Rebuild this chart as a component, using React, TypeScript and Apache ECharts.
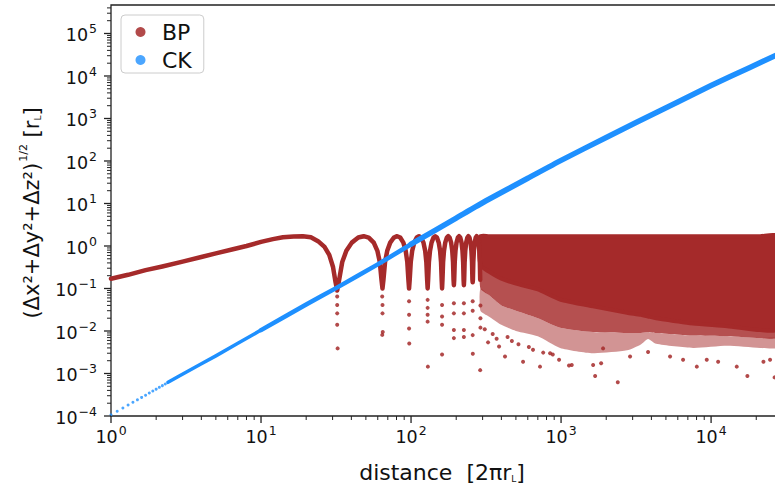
import React, { useEffect, useRef } from 'react';
import * as echarts from 'echarts';

const BROWN = '#a52a2a';
const BLUE = '#1e90ff';
const FONT = 'DejaVu Sans';
const INK = '#111';

// axis limits
const xMin = 1;
const xMax = 27500;
const yMin = 1e-4;
const yMax = 4.68e5;

// tick positions
const xMajorTicks = [1, 10, 100, 1000, 10000];
const yMajorTicks = [1e-4, 1e-3, 1e-2, 1e-1, 1, 10, 100, 1000, 1e4, 1e5];
const minorMultipliers = [2, 3, 4, 5, 6, 7, 8, 9];

// BP: smooth rising part before the first zero
const bpRiseX = [1, 1.3, 1.7, 2.2, 3, 4, 5, 6.5, 8, 10, 12, 14, 16.5, 19, 21.5, 24, 26.5, 28.5, 30.2, 31.4];
const bpRiseY = [0.17, 0.21, 0.27, 0.33, 0.43, 0.55, 0.67, 0.84, 1.0, 1.25, 1.45, 1.6, 1.68, 1.7, 1.6, 1.3, 0.95, 0.62, 0.32, 0.14];
// BP: zeros (dips) of the oscillation and the lowest point of the drawn trace there
const bpDipX = [32.2, 64.5, 97, 129, 161, 193, 225, 257.5, 290];
const bpDipY = [0.09, 0.1, 0.1, 0.1, 0.1, 0.12, 0.12, 0.14, 0.16];
// BP: arch shape between two zeros (fraction of spacing, value)
const lobeFrac = [0.03, 0.08, 0.15, 0.25, 0.38, 0.5, 0.62, 0.75, 0.85, 0.92, 0.97];
const lobeY = [0.16, 0.42, 0.77, 1.2, 1.58, 1.7, 1.58, 1.2, 0.77, 0.42, 0.16];
// BP: dense band beyond ~290
const bpBandTop = 1.7;
const bandX = [290, 330, 400, 500, 700, 985, 1633, 2754, 3400, 3800, 4300, 7590, 12790, 21220, 27500];
const bandSolidLowY = [0.35, 0.25, 0.17, 0.13, 0.095, 0.055, 0.038, 0.027, 0.024, 0.022, 0.02, 0.015, 0.013, 0.0105, 0.011];
const bandFuzzMidY = [0.1, 0.07, 0.04, 0.03, 0.02, 0.012, 0.0095, 0.009, 0.009, 0.0095, 0.009, 0.0078, 0.0075, 0.0068, 0.0068];
const bandFuzzLowY = [0.03, 0.022, 0.014, 0.01, 0.0075, 0.004, 0.003, 0.0035, 0.0048, 0.0065, 0.005, 0.004, 0.0045, 0.004, 0.004];
// BP: isolated sample points below the trace
const bpDotX = [
  32.2, 32.2, 32.2, 32.2, 32.4,
  64.2, 64.5, 64.5, 64.8, 64.3,
  97, 97, 97, 97.3,
  129, 129, 129, 129, 129.5,
  161, 161, 161, 161,
  193, 193, 193, 193,
  225, 225, 225, 225,
  257.5, 257.5, 257.5, 258,
  290, 290, 290, 289,
  326, 386, 423, 558, 724, 845, 970, 1130, 1178, 1635, 1686, 1849, 1905, 2388, 2884,
  3802, 5330, 6506, 8030, 9360, 11140, 14830, 17460, 22330, 24730, 26500,
  310, 350, 372, 440, 470, 520, 610, 650, 760, 880,
];
const bpDotY = [
  0.065, 0.041, 0.026, 0.014, 0.0039,
  0.065, 0.041, 0.026, 0.0095, 0.0081,
  0.05, 0.024, 0.0115, 0.0051,
  0.054, 0.035, 0.024, 0.0166, 0.00145,
  0.041, 0.022, 0.014, 0.0028,
  0.045, 0.026, 0.0105, 0.0068,
  0.045, 0.026, 0.0105, 0.0072,
  0.05, 0.03, 0.008, 0.0029,
  0.04, 0.02, 0.012, 0.0012,
  0.0054, 0.0043, 0.0025, 0.0019, 0.00145, 0.003, 0.0021, 0.00155, 0.00158, 0.00158, 0.00087, 0.00174, 0.0039, 0.00062, 0.0025,
  0.0032, 0.0025, 0.0021, 0.00145, 0.0021, 0.0019, 0.00145, 0.00087, 0.0019, 0.0021, 0.00081,
  0.011, 0.0085, 0.0066, 0.0072, 0.0058, 0.0049, 0.0042, 0.0036, 0.0031, 0.0028,
];

// CK: sparse samples at small distance
const ckDotX = [1.0, 1.1, 1.2, 1.3, 1.4, 1.5, 1.6, 1.7, 1.8, 1.9, 2.0, 2.1, 2.2, 2.3];
const ckDotY = [1.07e-4, 1.29e-4, 1.54e-4, 1.81e-4, 2.1e-4, 2.4e-4, 2.74e-4, 3.09e-4, 3.47e-4, 3.86e-4, 4.28e-4, 4.72e-4, 5.18e-4, 5.66e-4];
// CK: dense trace
const ckX = [2.4, 3.162, 5, 10, 20, 31.62, 60, 100, 200, 316.2, 600, 1000, 2000, 3162, 6000, 10000, 18000, 27500];
const ckY = [6.2e-4, 1.07e-3, 2.6e-3, 1.05e-2, 4.2e-2, 0.102, 0.37, 1.1, 4.54, 11.6, 39.2, 103.5, 356, 804, 2450, 5960, 15700, 31600];
const ckSplitA = 3; // x = 10: trace gets thicker
const ckSplitB = 7; // x = 100

function buildBpTrace(): number[][] {
  const pts: number[][] = bpRiseX.map((x, i) => [x, bpRiseY[i]]);
  for (let d = 0; d < bpDipX.length; d++) {
    pts.push([bpDipX[d], bpDipY[d]]);
    if (d < bpDipX.length - 1) {
      const a = bpDipX[d];
      const b = bpDipX[d + 1];
      lobeFrac.forEach((f, k) => pts.push([a + f * (b - a), lobeY[k]]));
    }
  }
  return pts;
}

function polygonSeries(name: string, xs: number[], upper: number[], lower: number[], style: any, z: number) {
  return {
    type: 'custom',
    name,
    silent: true,
    clip: true,
    z,
    data: [[xs[0], upper[0]]],
    renderItem: (_p: any, api: any) => {
      const pts: number[][] = [];
      for (let i = 0; i < xs.length; i++) pts.push(api.coord([xs[i], upper[i]]));
      for (let i = xs.length - 1; i >= 0; i--) pts.push(api.coord([xs[i], lower[i]]));
      return { type: 'polygon', shape: { points: pts, smooth: 0.2 }, style };
    },
  };
}

function buildTicks(): number[][] {
  const t: number[][] = [];
  xMajorTicks.forEach((v) => {
    t.push([v, yMin, 0]);
    minorMultipliers.forEach((m) => {
      const mv = v * m;
      if (mv <= xMax) t.push([mv, yMin, 1]);
    });
  });
  yMajorTicks.forEach((v) => {
    t.push([xMin, v, 2]);
    minorMultipliers.forEach((m) => {
      const mv = v * m;
      if (mv <= yMax) t.push([xMin, mv, 3]);
    });
  });
  return t;
}

const powLabel = (v: number) => {
  const e = Math.log10(v);
  const r = Math.round(e);
  if (Math.abs(e - r) > 1e-6) return '';
  return `{b|10}{s|${r < 0 ? '\u2212' + -r : r}}`;
};

const tickRich = {
  b: { fontSize: 17.5, fontFamily: FONT, color: INK, verticalAlign: 'bottom' },
  s: { fontSize: 12.5, fontFamily: FONT, color: INK, verticalAlign: 'top', padding: [0, 0, 9, 1] },
};

export default function App() {
  const ref = useRef<HTMLDivElement>(null);
  useEffect(() => {
    document.body.style.margin = '0';
    const chart = echarts.init(ref.current!, undefined, { renderer: 'svg' });
    const ckAll = ckX.map((x, i) => [x, ckY[i]]);
    const ckLine = (name: string, from: number, to: number, width: number) => ({
      type: 'line',
      name,
      data: ckAll.slice(from, to + 1),
      showSymbol: false,
      silent: true,
      smooth: 0.2,
      z: 3,
      lineStyle: { color: BLUE, width, cap: 'round', join: 'round' },
    });
    const option: any = {
      animation: false,
      backgroundColor: '#fff',
      grid: {
        left: 111,
        top: 5,
        right: -2,
        bottom: 67,
        show: true,
        borderColor: '#222',
        borderWidth: 1.3,
        outerBoundsMode: 'none',
      },
      xAxis: {
        type: 'log',
        logBase: 10,
        min: xMin,
        max: xMax,
        axisLine: { show: false },
        axisTick: { show: false },
        splitLine: { show: false },
        axisLabel: { formatter: powLabel, rich: tickRich, margin: 8, hideOverlap: false },
      },
      yAxis: {
        type: 'log',
        logBase: 10,
        min: yMin,
        max: yMax,
        axisLine: { show: false },
        axisTick: { show: false },
        splitLine: { show: false },
        axisLabel: { formatter: powLabel, rich: tickRich, margin: 14, hideOverlap: false },
      },
      legend: {
        left: 121,
        top: 15,
        orient: 'vertical',
        data: [
          { name: 'BP', icon: 'circle' },
          { name: 'CK', icon: 'circle' },
        ],
        itemWidth: 25,
        itemHeight: 10,
        itemGap: 6,
        padding: [6, 12, 2, 14.5],
        backgroundColor: 'rgba(255,255,255,0.85)',
        borderColor: '#cccccc',
        borderWidth: 1,
        borderRadius: 4,
        selectedMode: false,
        textStyle: { fontSize: 22, lineHeight: 22, fontFamily: FONT, color: INK, padding: [0, 0, 0, 4] },
      },
      graphic: [
        {
          type: 'text',
          x: 30,
          y: 213,
          rotation: Math.PI / 2,
          style: {
            text: '{a|(Δx²+Δy²+Δz²)}{s|1/2}{a| [r}{u|L}{a|]}',
            align: 'center',
            verticalAlign: 'middle',
            rich: {
              a: { fontSize: 21, fontFamily: FONT, fill: INK, verticalAlign: 'bottom' },
              s: { fontSize: 11, fontFamily: FONT, fill: INK, verticalAlign: 'top', padding: [0, 0, 14, 1] },
              u: { fontSize: 9, fontFamily: FONT, fill: INK, verticalAlign: 'bottom' },
            },
          },
        },
        {
          type: 'text',
          x: 442,
          y: 472,
          style: {
            text: '{a|distance  [2πr}{u|L}{a|]}',
            align: 'center',
            verticalAlign: 'middle',
            rich: {
              a: { fontSize: 22, fontFamily: FONT, fill: INK, verticalAlign: 'bottom' },
              u: { fontSize: 9, fontFamily: FONT, fill: INK, verticalAlign: 'bottom' },
            },
          },
        },
      ],
      series: [
        polygonSeries('BP fuzz low', bandX, bandFuzzMidY, bandFuzzLowY, { fill: 'rgba(165,42,42,0.5)' }, 1),
        polygonSeries('BP fuzz', bandX, bandSolidLowY, bandFuzzMidY, { fill: 'rgba(165,42,42,0.82)' }, 1),
        polygonSeries(
          'BP band',
          bandX,
          bandX.map(() => bpBandTop),
          bandSolidLowY,
          { fill: BROWN, stroke: BROWN, lineWidth: 4, lineJoin: 'round' },
          1,
        ),
        {
          type: 'line',
          name: 'BP trace',
          data: buildBpTrace(),
          showSymbol: false,
          silent: true,
          z: 2,
          lineStyle: { color: BROWN, width: 4.5, cap: 'round', join: 'round' },
        },
        {
          type: 'scatter',
          name: 'BP',
          data: bpDotX.map((x, i) => [x, bpDotY[i]]),
          symbolSize: 4,
          silent: true,
          z: 2,
          itemStyle: { color: BROWN, opacity: 0.85 },
        },
        ckLine('CK trace low', 0, ckSplitA, 3.5),
        ckLine('CK trace mid', ckSplitA, ckSplitB, 4.5),
        ckLine('CK trace', ckSplitB, ckX.length - 1, 5.5),
        {
          type: 'scatter',
          name: 'CK',
          data: ckDotX.map((x, i) => [x, ckDotY[i]]),
          symbolSize: 3,
          silent: true,
          z: 3,
          itemStyle: { color: BLUE },
        },
        {
          type: 'custom',
          name: 'ticks',
          silent: true,
          clip: false,
          z: 5,
          data: buildTicks(),
          renderItem: (_p: any, api: any) => {
            const kind = api.value(2);
            const p = api.coord([api.value(0), api.value(1)]);
            const major = kind === 0 || kind === 2;
            const len = major ? 7 : 4;
            const style = { stroke: '#222', lineWidth: major ? 1.3 : 1 };
            if (kind < 2) {
              return { type: 'line', shape: { x1: p[0], y1: p[1], x2: p[0], y2: p[1] + len }, style };
            }
            return { type: 'line', shape: { x1: p[0] - len, y1: p[1], x2: p[0], y2: p[1] }, style };
          },
        },
      ],
    };
    chart.setOption(option);
    return () => chart.dispose();
  }, []);
  return <div ref={ref} style={{ width: 775, height: 483 }} />;
}
